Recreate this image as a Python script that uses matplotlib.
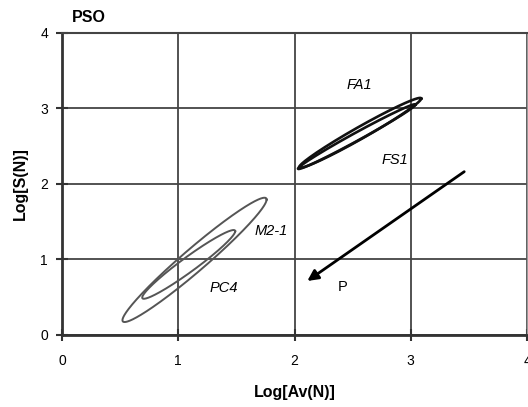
import numpy as np
import matplotlib
matplotlib.use("Agg")
import matplotlib.pyplot as plt

plt.rcParams['font.family'] = ['Liberation Sans', 'DejaVu Sans']

# Loops: tips (x1, y1) -> (x2, y2) and vertical half-thickness
loop_names = ["FA1", "FS1", "M2-1", "PC4"]
loop_x1 = [2.04, 2.03, 0.52, 0.69]
loop_y1 = [2.22, 2.20, 0.19, 0.49]
loop_x2 = [3.09, 3.04, 1.76, 1.49]
loop_y2 = [3.13, 3.05, 1.79, 1.37]
loop_h = [0.09, 0.06, 0.20, 0.12]
loop_colors = ["#111111", "#111111", "#555555", "#555555"]
loop_lw = [1.9, 1.9, 1.4, 1.4]

label_text = ["FA1", "FS1", "M2-1", "PC4", "P"]
label_x = [2.56, 2.86, 1.80, 1.39, 2.41]
label_y = [3.31, 2.31, 1.37, 0.62, 0.63]
label_style = ["italic", "italic", "italic", "italic", "normal"]

arrow_start = (3.46, 2.16)
arrow_end = (2.11, 0.71)

xticks = [0, 1, 2, 3, 4]
yticks = [0, 1, 2, 3, 4]

fig = plt.figure(figsize=(5.28, 4.07), dpi=100)
ax = fig.add_axes([62/528, 1-334.5/407, (527-62)/528, (334.5-33)/407])

t = np.linspace(0, 2*np.pi, 400)
for i in range(len(loop_names)):
    cx = (loop_x1[i] + loop_x2[i]) / 2
    cy = (loop_y1[i] + loop_y2[i]) / 2
    a = (loop_x2[i] - loop_x1[i]) / 2
    b = (loop_y2[i] - loop_y1[i]) / 2
    xs = cx + a*np.cos(t)
    ys = cy + b*np.cos(t) + loop_h[i]*np.sin(t)
    ax.plot(xs, ys, color=loop_colors[i], lw=loop_lw[i], zorder=3)

for s, x, y, st in zip(label_text, label_x, label_y, label_style):
    ax.text(x, y, s, style=st, fontsize=10.5, ha='center', va='center', zorder=4)

ax.annotate("", xy=arrow_end, xytext=arrow_start,
            arrowprops=dict(arrowstyle='-|>', color='black', lw=2.0,
                            mutation_scale=16, shrinkA=0, shrinkB=0), zorder=4)

ax.set_xlim(0, 4)
ax.set_ylim(0, 4)
ax.set_xticks(xticks)
ax.set_yticks(yticks)
ax.grid(True, color='#444444', lw=1.3)
ax.set_axisbelow(True)
for side in ['left', 'bottom']:
    ax.spines[side].set_color('#333333')
    ax.spines[side].set_linewidth(2.0)
ax.spines['top'].set_color('#444444')
ax.spines['top'].set_linewidth(1.5)
ax.spines['right'].set_color('#999999')
ax.spines['right'].set_linewidth(1.0)
ax.tick_params(axis='both', direction='inout', length=8, width=1.5,
               color='#333333', labelsize=10)
ax.tick_params(axis='y', pad=6)
ax.tick_params(axis='x', pad=10)

ax.set_xlabel("Log[Av(N)]", fontsize=11.5, fontweight='bold', labelpad=12)
ax.set_ylabel("Log[S(N)]", fontsize=11.5, fontweight='bold', labelpad=9)
fig.text(72/528, 1-17/407, "PSO", fontsize=11.5, fontweight='bold', ha='left', va='center')

fig.savefig("out.png", dpi=100)
